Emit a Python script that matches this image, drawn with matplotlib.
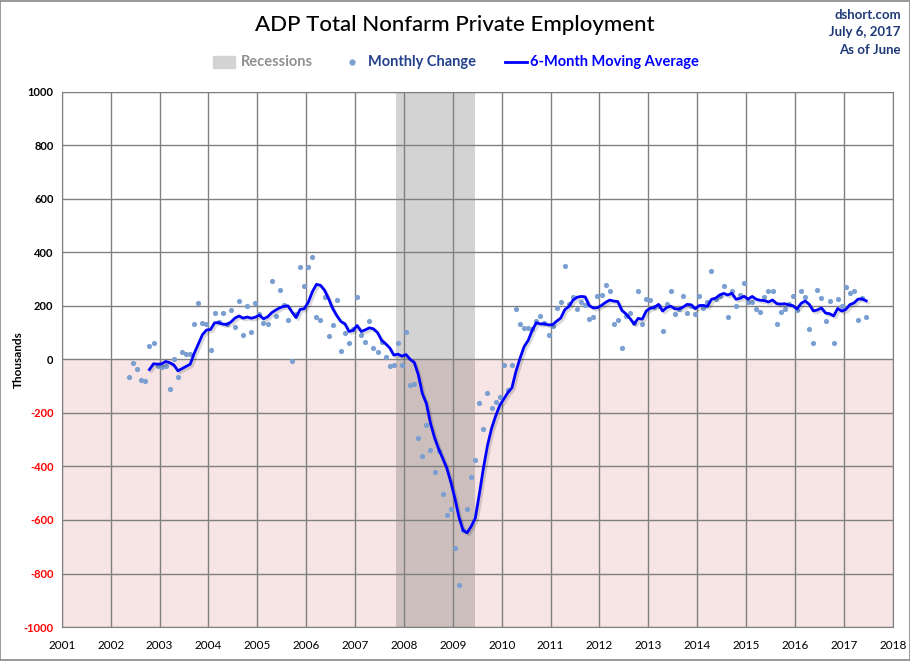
import matplotlib
matplotlib.use("Agg")
import matplotlib.pyplot as plt
import matplotlib.patheffects as pe
from matplotlib.patches import Rectangle
from matplotlib.lines import Line2D
import numpy as np
import pandas as pd

plt.rcParams['font.family'] = ['Lato', 'DejaVu Sans']

# monthly change in ADP private employment (thousands), May 2002 .. June 2017
start_month = "2002-05"
monthly_change = [
    -67, -15, -37, -78, -82, 52, 63, -24,                                   # 2002 May-Dec
    -30, -24, -110, 0, -67, 26, 22, 22, 134, 210, 138, 134,                 # 2003
    34, 172, 139, 175, 132, 186, 123, 220, 90, 201, 104, 210,               # 2004
    169, 138, 131, 295, 164, 261, 202, 149, -7, 170, 347, 276,              # 2005
    347, 384, 160, 149, 235, 86, 127, 224, 30, 97, 63, 112,                 # 2006
    235, 90, 67, 142, 41, 26, 65, 11, -26, -20, 63, -19,                    # 2007
    101, -97, -90, -295, -362, -246, -339, -421, -343, -504, -582, -560,    # 2008
    -705, -843, -637, -560, -440, -377, -164, -261, -127, -180, -160, -142, # 2009
    -19, -116, -19, 190, 134, 119, 119, 115, 145, 164, 138, 93,             # 2010
    125, 194, 216, 351, 209, 235, 190, 213, 205, 153, 160, 239,             # 2011
    242, 280, 257, 131, 149, 41, 164, 175, 135, 257, 131, 227,              # 2012
    224, 195, 201, 108, 209, 257, 168, 190, 239, 172, 200, 168,             # 2013
    239, 194, 216, 332, 225, 239, 276, 157, 254, 201, 242, 287,             # 2014
    213, 216, 190, 179, 235, 257, 257, 134, 179, 187, 209, 239,             # 2015
    185, 257, 235, 112, 60, 261, 231, 142, 220, 63, 227, 201,               # 2016
    269, 250, 257, 149, 231, 159,                                           # 2017 Jan-Jun
]
recession = (2007.83, 2009.45)   # Dec 2007 - Jun 2009
x_years = list(range(2001, 2019))
y_ticks = list(range(-1000, 1001, 200))

dates = pd.date_range(start_month, periods=len(monthly_change), freq="MS")
xpos = dates.year + (dates.month - 0.5) / 12.0
s = pd.Series(monthly_change, index=xpos)
ma6 = s.rolling(6).mean()

fig = plt.figure(figsize=(9.1, 6.61), dpi=100)
ax = fig.add_axes([0.068, 0.0514, 0.913, 0.8096])

ax.axhspan(-1000, 0, color="#f7e4e4", zorder=0, lw=0)
ax.axvspan(recession[0], recession[1], color="#505050", alpha=0.25, lw=0, zorder=1)

ax.scatter(s.index, s.values, s=14, color="#7b9fd0", zorder=3, lw=0)
ax.plot(ma6.index, ma6.values, color="#0000ff", lw=2.0, zorder=4,
        path_effects=[pe.SimpleLineShadow(offset=(1.5, -1.5), shadow_color="black", alpha=0.15),
                      pe.Normal()])

ax.set_xlim(2001, 2018)
ax.set_ylim(-1000, 1000)
ax.set_xticks(x_years)
ax.set_xticklabels([str(y) for y in x_years], fontsize=8.5)
ax.set_yticks(y_ticks)
ax.set_yticklabels([str(v) for v in y_ticks], fontsize=8, fontweight="bold")
for lab, v in zip(ax.get_yticklabels(), y_ticks):
    lab.set_color("red" if v < 0 else "black")
ax.tick_params(length=0, pad=6)
ax.tick_params(axis="x", pad=9)
ax.set_axisbelow("line")
ax.grid(True, color="#808080", lw=1.0)
for sp in ax.spines.values():
    sp.set_color("#808080")
ax.set_ylabel("Thousands", fontsize=8.5, fontweight="bold", labelpad=0)

fig.text(0.5, 0.962, "ADP Total Nonfarm Private Employment", ha="center", va="center",
         fontsize=16, fontweight="medium")
fig.text(0.990, 0.978, "dshort.com", ha="right", va="center", fontsize=9.5,
         color="#1f3a78", fontweight="bold")
fig.text(0.990, 0.951, "July 6, 2017", ha="right", va="center", fontsize=9.5,
         color="#1f3a78", fontweight="bold")
fig.text(0.990, 0.924, "As of June", ha="right", va="center", fontsize=9.5,
         color="#1f3a78", fontweight="bold")

# legend
ly = 0.906
fig.patches.append(Rectangle((213 / 910, ly - 0.009), 22 / 910, 0.018, color="#d3d3d3",
                             transform=fig.transFigure))
fig.text(241 / 910, ly, "Recessions", va="center", fontsize=10.5, color="#909090", fontweight="bold")
fig.lines.append(Line2D([352 / 910], [ly], marker="o", ms=3.5, color="#7b9fd0", lw=0,
                        transform=fig.transFigure))
fig.text(368 / 910, ly, "Monthly Change", va="center", fontsize=10.5, color="#24418c", fontweight="bold")
fig.lines.append(Line2D([505 / 910, 527 / 910], [ly, ly], color="#0000ff", lw=2,
                        transform=fig.transFigure))
fig.text(530 / 910, ly, "6-Month Moving Average", va="center", fontsize=10.5, color="#0000ff",
         fontweight="bold")

fig.patches.append(Rectangle((0.0005, 0.0008), 0.999, 0.998, fill=False, ec="#888888", lw=1.2,
                             transform=fig.transFigure))

fig.savefig("out.png", dpi=100)
